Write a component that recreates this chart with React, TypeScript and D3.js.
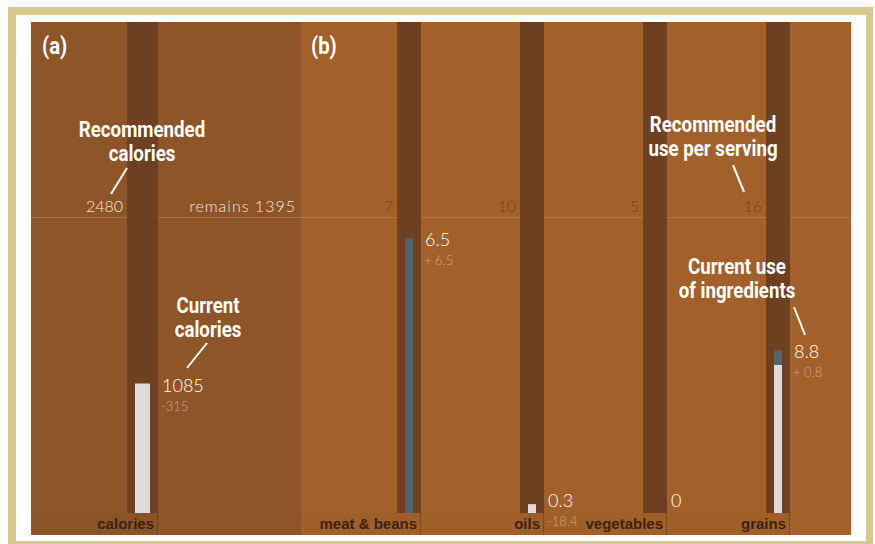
import * as d3 from "d3";
import React from "react";

// panel (a)
const calCats = ["calories"];
const calRecommended = [2480];
const calCurrent = [1085];
const calDelta = [-315];

// panel (b)
const foodCats = ["meat & beans", "oils", "vegetables", "grains"];
const foodRecommended = [7, 10, 5, 16];
const foodCurrent = [6.5, 0.3, 0, 8.8];
const foodDelta = [6.5, -18.4, null, 0.8];

const W = 875;
const H = 544;
const chartTop = 22;
const chartBottom = 535;
const barBase = 513;
const recLine = 217;

const colA = "#8d5528";
const colB = "#a2612a";
const colDark = "#6c4021";
const whiteBar = "#e2dada";
const slateBar = "#55636a";
const deltaColor = "#cba588";
const boldFont = "Roboto, 'DejaVu Sans', sans-serif";
const lightFont = "Lato, 'Open Sans', sans-serif";

const fmtDelta = (d) => (d > 0 ? `+ ${d}` : `${d}`);

function Column({ x0, x1, colW, barW, rec, cur, delta, label, tickText, tickColor }) {
  const y = d3.scaleLinear().domain([0, rec]).range([barBase, recLine]);
  const colX = x1 - colW;
  const cx = colX + colW / 2;
  const base = delta != null && delta > 0 ? cur - delta : cur;
  const valY = Math.min(y(cur) + 8, 507);
  return (
    <g>
      <rect x={colX} y={chartTop} width={colW} height={barBase - chartTop} fill={colDark} />
      <rect x={x0} y={barBase} width={x1 - x0} height={chartBottom - barBase} fill="rgba(0,0,0,0.012)" />
      <line x1={x1 - 0.5} x2={x1 - 0.5} y1={barBase} y2={chartBottom} stroke="rgba(60,30,10,0.3)" />
      {base > 0 && (
        <rect x={cx - barW / 2} y={y(base)} width={barW} height={y(0) - y(base)} fill={whiteBar} />
      )}
      {delta != null && delta > 0 && (
        <rect x={cx - barW / 2} y={y(cur)} width={barW} height={y(base) - y(cur)} fill={slateBar} />
      )}
      <text x={colX - 4} y={212} textAnchor="end" fontFamily={lightFont} fontWeight={300} fontSize={16} fill={tickColor}>
        {tickText}
      </text>
      <text x={x1 + 4} y={valY} fontFamily={lightFont} fontWeight={300} fontSize={18} fill="#fff">
        {cur}
      </text>
      {delta != null && (
        <text x={x1 + 3} y={valY + 19} fontFamily={lightFont} fontWeight={300} fontSize={13} fill={deltaColor}>
          {fmtDelta(delta)}
        </text>
      )}
      <text x={x1 - 4} y={529} textAnchor="end" fontFamily="'Liberation Sans', Arial, sans-serif" fontWeight="bold" fontSize={15} fill="#3b2311">
        {label}
      </text>
    </g>
  );
}

// condensed bold white text, squeezed horizontally
function Bold({ x, y, lines, anchor = "middle", size = 22 }) {
  return (
    <g transform={`translate(${x},${y}) scale(0.85,1)`}>
      <text textAnchor={anchor} fontFamily={boldFont} fontWeight="bold" fontSize={size} fill="#fff">
        {lines.map((l, i) => (
          <tspan key={i} x={0} dy={i === 0 ? 0 : 24}>
            {l}
          </tspan>
        ))}
      </text>
    </g>
  );
}

export default function App() {
  const xa = d3.scaleBand().domain(calCats).range([31, 158]);
  const xb = d3.scaleBand().domain(foodCats).range([298, 790]);

  return (
    <svg width={W} height={H} style={{ position: "absolute", left: 0, top: 0 }}>
      <rect x={8} y={7} width={865} height={545} fill="#d8c98f" />
      <rect x={16} y={15} width={850} height={526} fill="#fff" />
      <rect x={31} y={chartTop} width={270} height={chartBottom - chartTop} fill={colA} />
      <rect x={301} y={chartTop} width={550} height={chartBottom - chartTop} fill={colB} />
      <line x1={31} x2={851} y1={recLine + 0.5} y2={recLine + 0.5} stroke="rgba(255,210,160,0.22)" />

      {calCats.map((c, i) => (
        <Column
          key={c}
          x0={xa(c)}
          x1={xa(c) + xa.bandwidth()}
          colW={31}
          barW={15}
          rec={calRecommended[i]}
          cur={calCurrent[i]}
          delta={calDelta[i]}
          label={c}
          tickText={calRecommended[i]}
          tickColor="#f3e6da"
        />
      ))}
      <text x={296} y={212} textAnchor="end" fontFamily={lightFont} fontWeight={300} fontSize={16} letterSpacing={1} fill="#f3e6da">
        {`remains ${calRecommended[0] - calCurrent[0]}`}
      </text>

      {foodCats.map((c, i) => (
        <Column
          key={c}
          x0={xb(c)}
          x1={xb(c) + xb.bandwidth()}
          colW={24}
          barW={8}
          rec={foodRecommended[i]}
          cur={foodCurrent[i]}
          delta={foodDelta[i]}
          label={c}
          tickText={foodRecommended[i]}
          tickColor="#6e4322"
        />
      ))}

      <Bold x={42} y={54} lines={["(a)"]} anchor="start" size={24} />
      <Bold x={311} y={54} lines={["(b)"]} anchor="start" size={24} />

      <Bold x={142} y={137} lines={["Recommended", "calories"]} />
      <line x1={111} y1={194} x2={127} y2={168} stroke="#fff" strokeWidth={2} />
      <Bold x={208} y={313} lines={["Current", "calories"]} />
      <line x1={187} y1={368} x2={207} y2={343} stroke="#fff" strokeWidth={2} />
      <Bold x={713} y={132} lines={["Recommended", "use per serving"]} />
      <line x1={733} y1={165} x2={744} y2={192} stroke="#fff" strokeWidth={2} />
      <Bold x={737} y={274} lines={["Current use", "of ingredients"]} />
      <line x1={794} y1={307} x2={805} y2={335} stroke="#fff" strokeWidth={2} />
    </svg>
  );
}
